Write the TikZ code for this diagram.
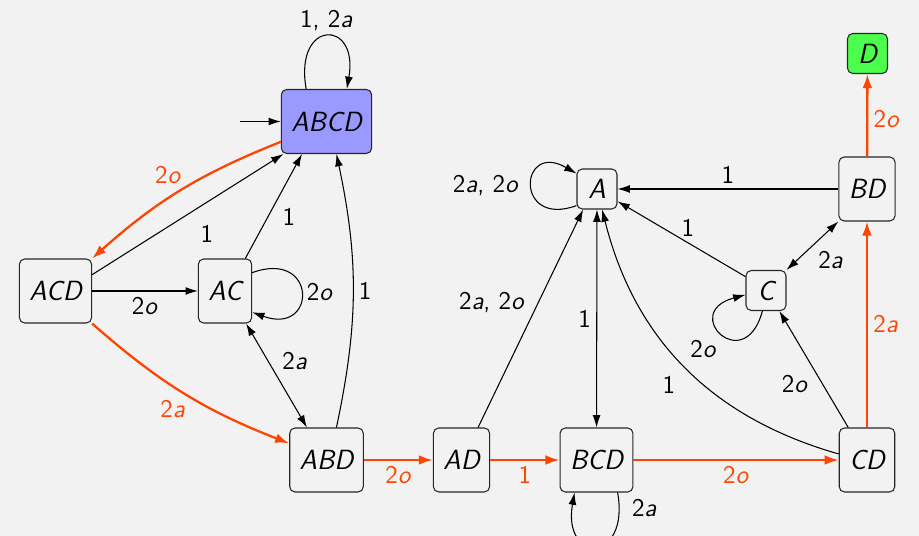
\documentclass[tikz,border=0pt]{standalone}
\usetikzlibrary{arrows.meta,positioning}
\definecolor{hotred}{RGB}{255,69,0}
\definecolor{bgray}{RGB}{242,242,242}
\newcommand{\figfont}{\fontsize{14.5}{17}\selectfont\sffamily}
\newcommand{\statefont}{\fontsize{15.8}{18}\selectfont\sffamily\itshape}

\begin{document}
\begin{tikzpicture}[
    state/.style={draw=black!85, line width=0.6pt, rounded corners=3pt, minimum height=1.28cm, inner xsep=0.2cm, font=\statefont},
    letter/.style={state, minimum height=0.8cm, minimum width=0.8cm, inner sep=0pt},
    trans/.style={-{Latex[length=7pt,width=4.5pt]}, line width=0.6pt},
    twoway/.style={{Latex[length=7pt,width=4.5pt]}-{Latex[length=7pt,width=4.5pt]}, line width=0.6pt},
    hot/.style={-{Latex[length=8pt,width=5.5pt]}, line width=1.3pt, draw=hotred},
    lbl/.style={font=\figfont, inner sep=3pt},
    hotlbl/.style={lbl, text=hotred},
]
\useasboundingbox (0,0) rectangle (18.38,10.72);
\fill[bgray] (0,0) rectangle (18.38,10.72);

% states
\node[state, fill=blue!40] (ABCD) at (6.53,8.29) {ABCD};
\node[state] (ACD) at (1.11,4.90) {ACD};
\node[state] (AC) at (4.50,4.90) {AC};
\node[state] (ABD) at (6.53,1.52) {ABD};
\node[state] (AD) at (9.23,1.52) {AD};
\node[state] (BCD) at (11.93,1.52) {BCD};
\node[letter] (A) at (11.94,6.94) {A};
\node[state] (BD) at (17.34,6.94) {BD};
\node[letter] (C) at (15.32,4.91) {C};
\node[state] (CD) at (17.34,1.52) {CD};
\node[letter, fill=green!70] (D) at (17.35,9.65) {D};
\coordinate (init) at (4.8,8.29);

% left part
\draw[trans] (init) -- (ABCD);
\draw[trans] (ABCD.122) to[out=100,in=80,looseness=4.5] node[lbl,above] {1, 2\textit{a}} (ABCD.58);
\draw[hot] (ABCD.204) to[bend right=10] node[hotlbl,above left,xshift=4pt] {2\textit{o}} (ACD.north east);
\draw[trans] (ACD.24) -- node[lbl,pos=0.6,below=10pt] {1} (ABCD.217);
\draw[trans] (AC.58) -- node[lbl,pos=0.4,right=5pt] {1} (ABCD.233);
\draw[trans] (ABD.73) to[bend right=12] node[lbl,right] {1} (ABCD.287);
\draw[trans] (ACD) -- node[lbl,below] {2\textit{o}} (AC);
\draw[trans] (AC.34) to[out=20,in=-20,looseness=4.5] node[lbl,right] {2\textit{o}} (AC.-38);
\draw[twoway] (AC.-57) -- node[lbl,above right] {2\textit{a}} (ABD.121);
\draw[hot] (ACD.south east) to[bend right=10] node[hotlbl,below left,xshift=4pt] {2\textit{a}} (ABD.156);

% bottom row
\draw[hot] (ABD) -- node[hotlbl,below] {2\textit{o}} (AD);
\draw[hot] (AD) -- node[hotlbl,below] {1} (BCD);
\draw[hot] (BCD) -- node[hotlbl,below] {2\textit{o}} (CD);
\draw[hot] (CD) -- node[hotlbl,right] {2\textit{a}} (BD);
\draw[hot] (BD) -- node[hotlbl,right,pos=0.45] {2\textit{o}} (D);

% right part
\draw[trans] (BD) -- node[lbl,above] {1} (A);
\draw[trans] (C.146) -- node[lbl,above,pos=0.45] {1} (A.-31);
\draw[twoway] (C.north east) -- node[lbl,below right] {2\textit{a}} (BD.south west);
\draw[trans] (C.260) to[out=255,in=195,looseness=7.5] node[lbl,below left] {2\textit{o}} (C.192);
\draw[trans] (CD.120) -- node[lbl,below left] {2\textit{o}} (C.-57);
\draw[trans] (CD.168) to[bend left=30] node[lbl,below left=3pt] {1} (A.284);
\draw[twoway] (A) -- node[lbl,left] {1} (BCD);
\draw[trans] (AD.63) -- node[lbl,above left] {2\textit{a}, 2\textit{o}} (A.236);
\draw[trans] (A.219) to[out=200,in=150,looseness=5.3] node[lbl,left=4pt] {2\textit{a}, 2\textit{o}} (A.143);
\draw[trans] (BCD.-57) to[out=-80,in=-100,looseness=4.3] node[lbl,right=4pt,pos=0.08] {2\textit{a}} (BCD.-124);
\end{tikzpicture}
\end{document}
